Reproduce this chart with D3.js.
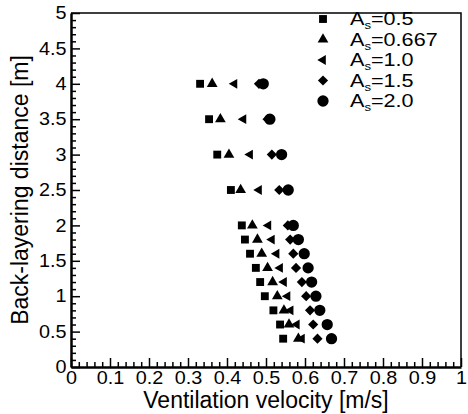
<!DOCTYPE html>
<html>
<head>
<meta charset="utf-8">
<script src="https://cdn.jsdelivr.net/npm/d3@7"></script>
<style>
  body { margin: 0; background: #fff; }
  svg { font-family: "Liberation Sans", Arial, sans-serif; }
</style>
</head>
<body>
<svg id="chart" width="468" height="414"></svg>
<script>
// back-layering distance (y) for every row of points
var heights = [4.0, 3.5, 3.0, 2.5, 2.0, 1.8, 1.6, 1.4, 1.2, 1.0, 0.8, 0.6, 0.4];

// ventilation velocity for each aspect ratio
var v_05   = [0.331, 0.354, 0.375, 0.410, 0.438, 0.446, 0.459, 0.474, 0.485, 0.497, 0.519, 0.536, 0.544];
var v_0667 = [0.362, 0.383, 0.405, 0.435, 0.465, 0.478, 0.489, 0.504, 0.517, 0.529, 0.546, 0.559, 0.583];
var v_10   = [0.419, 0.442, 0.459, 0.482, 0.506, 0.515, 0.527, 0.536, 0.546, 0.555, 0.563, 0.579, 0.592];
var v_15   = [0.482, 0.504, 0.515, 0.534, 0.556, 0.562, 0.570, 0.577, 0.592, 0.603, 0.613, 0.621, 0.632];
var v_20   = [0.493, 0.510, 0.540, 0.557, 0.570, 0.583, 0.598, 0.608, 0.617, 0.628, 0.638, 0.657, 0.668];

var seriesNames = ["0.5", "0.667", "1.0", "1.5", "2.0"];
var seriesVals = [v_05, v_0667, v_10, v_15, v_20];

var xTicks = [0, 0.1, 0.2, 0.3, 0.4, 0.5, 0.6, 0.7, 0.8, 0.9, 1];
var yTicks = [0, 0.5, 1, 1.5, 2, 2.5, 3, 3.5, 4, 4.5, 5];

var svg = d3.select("#chart");

var x = d3.scaleLinear().domain([0, 1]).range([71, 461]);
var y = d3.scaleLinear().domain([0, 5]).range([367, 13]);

// marker shapes, one per series
var shapes = [
  {type: d3.symbolSquare, size: 62, rot: 0},
  {type: d3.symbolTriangle, size: 50, rot: 0},
  {type: d3.symbolTriangle, size: 42, rot: -90},
  {type: d3.symbolSquare, size: 52, rot: 45},
  {type: d3.symbolCircle, size: 100, rot: 0}
];

// minor ticks
var xMinor = d3.range(0, 1.0001, 0.02).filter(function(d) { return Math.abs(d * 10 - Math.round(d * 10)) > 1e-6; });
var yMinor = d3.range(0, 5.0001, 0.1).filter(function(d) { return Math.abs(d * 2 - Math.round(d * 2)) > 1e-6; });

svg.append("g")
  .attr("transform", "translate(0,367)")
  .call(d3.axisBottom(x).tickValues(xMinor).tickSize(-5).tickFormat(""))
  .call(function(g) { g.select(".domain").remove(); });

svg.append("g")
  .attr("transform", "translate(71,0)")
  .call(d3.axisLeft(y).tickValues(yMinor).tickSize(-5).tickFormat(""))
  .call(function(g) { g.select(".domain").remove(); });

var xAxis = svg.append("g")
  .attr("transform", "translate(0,367)")
  .call(d3.axisBottom(x).tickValues(xTicks).tickSize(-9).tickSizeOuter(0).tickPadding(4).tickFormat(d3.format("")));

var yAxis = svg.append("g")
  .attr("transform", "translate(71,0)")
  .call(d3.axisLeft(y).tickValues(yTicks).tickSize(-9).tickSizeOuter(0).tickPadding(4).tickFormat(d3.format("")));

svg.selectAll(".tick line").attr("stroke", "#000").attr("stroke-width", 1.5);
svg.selectAll(".domain").attr("stroke", "#000").attr("stroke-width", 2.5);
svg.selectAll(".tick text").attr("font-size", 18).attr("fill", "#000")
  .attr("transform", "scale(1.1,1)")
  .attr("font-family", "'Liberation Sans', Arial, sans-serif");

// top and right border
svg.append("path")
  .attr("d", "M" + x(0) + "," + y(5) + "H" + x(1) + "V" + y(0))
  .attr("fill", "none")
  .attr("stroke", "#000")
  .attr("stroke-width", 1.5);

// points
seriesVals.forEach(function(vals, i) {
  var sym = d3.symbol().type(shapes[i].type).size(shapes[i].size);
  svg.append("g").selectAll("path")
    .data(vals)
    .enter().append("path")
    .attr("d", sym)
    .attr("fill", "#000")
    .attr("transform", function(d, j) {
      return "translate(" + x(d) + "," + y(heights[j]) + ") rotate(" + shapes[i].rot + ")";
    });
});

// legend
var legend = svg.append("g");
seriesNames.forEach(function(name, i) {
  var ly = 19 + i * 20.5;
  legend.append("path")
    .attr("d", d3.symbol().type(shapes[i].type).size(shapes[i].size))
    .attr("transform", "translate(323," + ly + ") rotate(" + shapes[i].rot + ")")
    .attr("fill", "#000");
  var t = legend.append("text")
    .attr("transform", "translate(350," + (ly + 6) + ") scale(1.2,1)")
    .attr("font-size", 18)
    .attr("fill", "#000");
  t.append("tspan").text("A");
  t.append("tspan").attr("font-size", 11).attr("dy", 4).text("s");
  t.append("tspan").attr("dy", -4).text("=" + name);
});

// axis titles
svg.append("text")
  .attr("x", 266)
  .attr("y", 408)
  .attr("text-anchor", "middle")
  .attr("font-size", 23)
  .attr("fill", "#000")
  .text("Ventilation velocity [m/s]");

svg.append("text")
  .attr("transform", "translate(28,190) rotate(-90)")
  .attr("text-anchor", "middle")
  .attr("font-size", 23)
  .attr("fill", "#000")
  .text("Back-layering distance [m]");
</script>
</body>
</html>
